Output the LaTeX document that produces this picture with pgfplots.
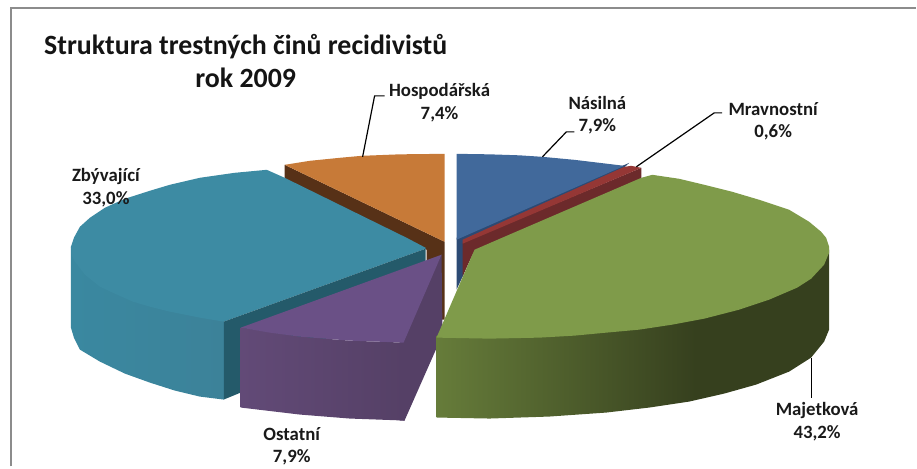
\documentclass[border=0pt]{standalone}
\usepackage{pgfplots}
\pgfplotsset{compat=1.18}
\usepackage{fontspec}
\setmainfont{Carlito}
\definecolor{orangeT}{HTML}{C77A38}
\definecolor{brownW}{HTML}{573117}
\definecolor{tealT}{HTML}{3D8BA3}
\definecolor{tealA}{HTML}{3A88A0}
\definecolor{tealB}{HTML}{3C8299}
\definecolor{tealD}{HTML}{245A6A}
\definecolor{purT}{HTML}{6A5086}
\definecolor{purA}{HTML}{624A77}
\definecolor{purB}{HTML}{554066}
\definecolor{blueT}{HTML}{41699B}
\definecolor{blueD}{HTML}{2C4A74}
\definecolor{redT}{HTML}{953735}
\definecolor{redD}{HTML}{6C2A2B}
\definecolor{greenT}{HTML}{7F9B4A}
\definecolor{greenA}{HTML}{667C3A}
\definecolor{greenB}{HTML}{36401E}
\definecolor{frameC}{HTML}{8C8C8C}
\pgfdeclarehorizontalshading{greenwall}{100bp}{color(0bp)=(greenA); color(25bp)=(greenA); color(58bp)=(greenB); color(100bp)=(greenB)}
\pgfdeclarehorizontalshading{purwall}{100bp}{color(0bp)=(purA); color(25bp)=(purA); color(75bp)=(purB); color(100bp)=(purB)}
\pgfdeclarehorizontalshading{tealwall}{100bp}{color(0bp)=(tealA); color(25bp)=(tealA); color(75bp)=(tealB); color(100bp)=(tealB)}
\tikzset{lab/.style={font=\bfseries\fontsize{18.8}{18.8}\selectfont, align=center, text=black!90}}
\begin{document}
\begin{tikzpicture}
\begin{axis}[
  scale only axis, width=917pt, height=467pt,
  xmin=0, xmax=917, ymin=0, ymax=467, y dir=reverse,
  hide axis, clip=false,
  every axis plot/.append style={no markers, draw=none},
]
\path (axis cs:0,0) rectangle (axis cs:917,467);
% frame
\addplot[draw=frameC, line width=2pt] coordinates {(11,467) (11,8) (917,8)};
% Hospodarska
\addplot[fill=brownW] coordinates {(285,165) (445,242) (445,320) (427,320) (427,250) (285,179)};
\addplot[fill=orangeT] coordinates {(285,165) (310,161) (340,158) (362,156) (400,154.5) (445,154) (445,242)};
% Zbyvajici
\addplot[shade, shading=tealwall] coordinates {(71,247) (71,328) (74,338) (80,350) (100,362) (125,374) (150,383) (175,391) (200,397) (224,400) (224,312) (200,308) (170,302) (133,291) (100,277) (80,260)};
\addplot[fill=tealT] coordinates {(267,170) (235,173) (200,178) (170,185) (150,191) (125,199) (105,208) (90,218) (80,227) (74,238) (71,247) (72,256) (75,262) (85,275) (100,287) (115,294) (133,302) (150,307) (170,312) (200,318) (224,322) (426,249) (426,248) (407,238) (285,178)};
\addplot[fill=tealD] coordinates {(224,322) (426,249) (426,280) (241,393) (224,400)};
% Ostatni
\addplot[fill=purB] coordinates {(442,255) (400,343) (400,421) (405,421) (443,335)};
\addplot[shade, shading=purwall] coordinates {(241,328) (300,337) (350,341) (404,343) (405,421) (350,419) (300,415) (241,408)};
\addplot[fill=purT] coordinates {(442,255) (241,328) (270,333) (300,337) (350,341) (404,343)};
% Nasilna
\addplot[fill=blueD] coordinates {(630,163) (457,238) (457,290) (464,275) (464,245) (620,172)};
\addplot[fill=blueT] coordinates {(457,154) (490,154.5) (520,155.5) (543,157) (575,160) (600,163) (625,166) (457,240)};
% Mravnostni
\addplot[fill=redD] coordinates {(642,168) (642,182) (480,255) (473,255) (463,277) (463,243)};
\addplot[fill=redT] coordinates {(625,167) (632,166) (642,168) (463,244) (463,240)};
% Majetkova
\addplot[shade, shading=greenwall] coordinates {(437,336) (437,418) (490,419) (550,417) (607,413) (650,408) (690,402) (725,394) (757,385) (790,372) (812,358) (825,342) (830,330) (830,250) (798,285) (740,305) (673,320) (607,330) (540,335)};
\addplot[fill=greenT] coordinates {(437,338) (475,250) (505,237) (642,178) (653,175) (680,179) (705,185) (733,192) (760,200) (790,210) (810,222) (822,232) (827,238) (830,247) (830,253) (825,265) (812,279) (798,288) (770,300) (740,310) (705,319) (673,325) (640,330) (607,333) (575,336) (540,338) (490,339) (437,338)};
% leaders
\addplot[draw=black, line width=1.2pt] coordinates {(363,157) (375,96) (385,96)};
\addplot[draw=black, line width=1.2pt] coordinates {(543,157) (567,132) (575,132)};
\addplot[draw=black, line width=1.2pt] coordinates {(637,167) (715,113) (723,113)};
\addplot[draw=black, line width=1.2pt] coordinates {(812,358) (812,398)};
% texts
\node[font=\bfseries\fontsize{27.9}{33}\selectfont, align=center, text=black!92] at (axis cs:246,61) {Struktura trestných činů recidivistů\\rok 2009};
\node[lab] at (axis cs:440,91) {Hospodářská};
\node[lab] at (axis cs:440,114) {7,4\%};
\node[lab] at (axis cs:598,103) {Násilná};
\node[lab] at (axis cs:598,126) {7,9\%};
\node[lab] at (axis cs:774,109) {Mravnostní};
\node[lab] at (axis cs:774,132) {0,6\%};
\node[lab] at (axis cs:106,177) {Zbývající};
\node[lab] at (axis cs:106,200) {33,0\%};
\node[lab] at (axis cs:292,435) {Ostatní};
\node[lab] at (axis cs:292,458) {7,9\%};
\node[lab] at (axis cs:818,411) {Majetková};
\node[lab] at (axis cs:818,434) {43,2\%};
\end{axis}
\end{tikzpicture}
\end{document}
